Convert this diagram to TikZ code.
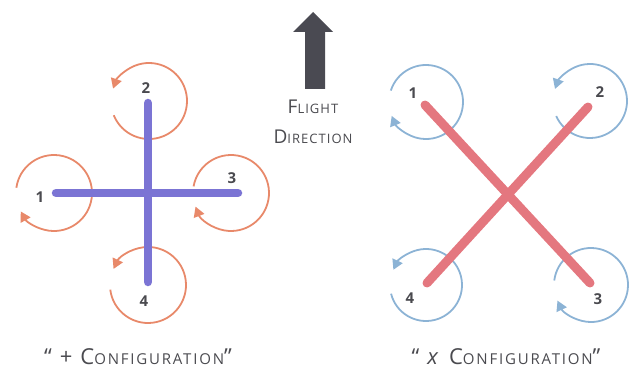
\documentclass[tikz,border=0pt]{standalone}
\usepackage{fontspec}
\setmainfont{Open Sans}
\usetikzlibrary{arrows.meta}
\definecolor{orangec}{HTML}{E8896A}
\definecolor{bluec}{HTML}{8CB3D5}
\definecolor{purplec}{HTML}{7B74D4}
\definecolor{redc}{HTML}{E4777F}
\definecolor{darkc}{HTML}{4A4A52}
\definecolor{textc}{HTML}{4A4A4F}
\newfontfamily\capfont[LetterSpace=12]{Open Sans}
\newfontfamily\flfont[LetterSpace=8]{Open Sans}
\begin{document}
\begin{tikzpicture}[x=1pt,y=1pt,
  barp/.style={purplec,line width=8.5pt,line cap=round},
  barx/.style={redc,line width=9pt,line cap=round},
  rot/.style={line width=1.8pt,-{Triangle[length=10pt,width=11pt]}},
  rotp/.style={rot,orangec},
  rotx/.style={rot,bluec},
  num/.style={text=textc,font=\bfseries\fontsize{15}{15}\selectfont,inner sep=0pt},
  captext/.style={text=textc,inner sep=0pt,align=center}]
\useasboundingbox (0,0) rectangle (632,370);
% plus configuration: rotors
\coordinate (c2) at (149,269);
\coordinate (c1) at (54,177);
\coordinate (c3) at (231,177);
\coordinate (c4) at (148,85);
\draw[rotp] (c2) ++(202:38) arc[start angle=202,end angle=521,radius=38];
\draw[rotp] (c1) ++(172:38) arc[start angle=172,end angle=-151,radius=38];
\draw[rotp] (c3) ++(170:38) arc[start angle=170,end angle=-159,radius=38];
\draw[rotp] (c4) ++(187:38) arc[start angle=187,end angle=515,radius=38];
% plus configuration: frame
\coordinate (pl) at (56,177);
\coordinate (pr) at (238,177);
\coordinate (ptop) at (148,267);
\coordinate (pbot) at (148,88);
\draw[barp] (pl) -- (pr);
\draw[barp] (ptop) -- (pbot);
\node[num] (n2) at (146,282) {2};
\node[num] (n1) at (40,173) {1};
\node[num] (n3) at (232,192) {3};
\node[num] (n4) at (144,69) {4};
% x configuration: rotors
\coordinate (d1) at (426,268);
\coordinate (d2) at (590,269);
\coordinate (d4) at (426,85);
\coordinate (d3) at (591,85);
\draw[rotx] (d1) ++(162:37) arc[start angle=162,end angle=-158,radius=37];
\draw[rotx] (d2) ++(204:37) arc[start angle=204,end angle=521,radius=37];
\draw[rotx] (d4) ++(194:36) arc[start angle=194,end angle=515,radius=36];
\draw[rotx] (d3) ++(173:37) arc[start angle=173,end angle=-155,radius=37];
% x configuration: frame
\coordinate (a1) at (425,265);
\coordinate (a3) at (590,87);
\coordinate (b2) at (588,263);
\coordinate (b4) at (427,87);
\draw[barx] (a1) -- (a3);
\draw[barx] (b2) -- (b4);
\node[num] (m1) at (413,277) {1};
\node[num] (m2) at (600,278) {2};
\node[num] (m4) at (410,72) {4};
\node[num] (m3) at (598,71) {3};
% flight direction
\fill[darkc] (313,358) -- (333,338) -- (325,338) -- (325,281) -- (305,281) -- (305,338) -- (293,338) -- cycle;
\node[captext] (fl) at (313,263) {\flfont{\fontsize{19}{19}\selectfont F}{\fontsize{13}{13}\selectfont LIGHT}};
\node[captext] (dir) at (313,233) {\flfont{\fontsize{19}{19}\selectfont D}{\fontsize{13}{13}\selectfont IRECTION}};
% captions
\node[captext] (capp) at (138,13) {\capfont\fontsize{22}{22}\selectfont “\hspace{8pt}+\hspace{8pt}C{\fontsize{15}{15}\selectfont ONFIGURATION}”};
\node[captext] (capx) at (506,13) {\capfont\fontsize{22}{22}\selectfont “\hspace{8pt}\textit{x}\hspace{8pt}C{\fontsize{15}{15}\selectfont ONFIGURATION}”};
\end{tikzpicture}
\end{document}
